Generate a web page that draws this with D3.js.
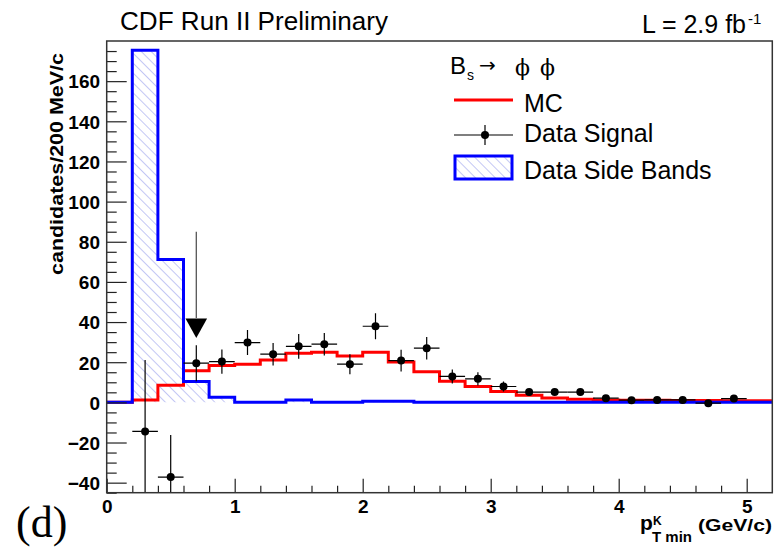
<!DOCTYPE html>
<html>
<head>
<meta charset="utf-8">
<script src="https://cdn.jsdelivr.net/npm/d3@7"></script>
<style>
  html, body { margin: 0; padding: 0; background: #fff; }
  svg { display: block; }
</style>
</head>
<body>
<svg id="chart" width="776" height="547"></svg>
<script>
// ---- data (bin width 0.2 GeV/c, bins from 0 to 5.2) ----
const binEdges = d3.range(0, 27).map(i => +(i * 0.2).toFixed(1));
const mcValues = [0, 1.2, 8.5, 15.7, 18.3, 19.0, 21.1, 24.5, 25.0, 23.1, 25.0, 20.1, 15.2, 10.5, 7.9, 5.4, 3.6, 2.2, 1.6, 1.2, 1.0, 1.0, 0.9, 0.9, 0.8, 0.8];
const sideBandValues = [0, 175.4, 71.2, 10.4, 2.6, 0, 0, 1.2, 0, 0, 0.5, 0.5, 0, 0, 0, 0, 0, 0, 0, 0, 0, 0, 0, 0, 0, 0];
const dataX = [0.3, 0.5, 0.7, 0.9, 1.1, 1.3, 1.5, 1.7, 1.9, 2.1, 2.3, 2.5, 2.7, 2.9, 3.1, 3.3, 3.5, 3.7, 3.9, 4.1, 4.3, 4.5, 4.7, 4.9];
const dataY = [-14.5, -37.2, 19.5, 20.3, 29.8, 24.0, 27.9, 29.0, 19.0, 37.9, 20.8, 27.0, 12.9, 11.7, 7.9, 5.1, 5.1, 5.1, 2.1, 1.1, 1.2, 1.2, -0.4, 1.9];
const dataErr = [35.6, 21.0, 9.0, 6.0, 6.2, 5.6, 6.2, 5.6, 5.0, 6.5, 5.4, 5.6, 3.5, 3.3, 2.5, 1.5, 1.5, 1.5, 1.0, 1.0, 1.0, 1.0, 1.0, 1.0];
const cutArrow = { x: 0.7, from: 85, to: 32 };
const xTicks = [0, 1, 2, 3, 4, 5];
const yTicks = [-40, -20, 0, 20, 40, 60, 80, 100, 120, 140, 160];

// ---- layout ----
const L = 106.7, R = 772.3, T = 41, B = 492.7;
const svg = d3.select("#chart");
const x = d3.scaleLinear().domain([0, 5.2]).range([L, R]);
const y = d3.scaleLinear().domain([-45, 180]).range([B, T]);
const bw = 0.2;

// hatch pattern
const defs = svg.append("defs");
const pat = defs.append("pattern")
  .attr("id", "hatch").attr("patternUnits", "userSpaceOnUse")
  .attr("width", 7).attr("height", 7)
  .attr("patternTransform", "rotate(-45)");
pat.append("line").attr("x1", 0).attr("y1", 0).attr("x2", 0).attr("y2", 7)
  .attr("stroke", "#a9aff0").attr("stroke-width", 1.4);

const clip = defs.append("clipPath").attr("id", "plotclip");
clip.append("rect").attr("x", L).attr("y", T).attr("width", R - L).attr("height", B - T);

// step paths
function stepPoints(vals) {
  const pts = [];
  vals.forEach((v, i) => {
    pts.push([binEdges[i], v]);
    pts.push([binEdges[i + 1], v]);
  });
  return pts;
}
const line = d3.line().x(d => x(d[0])).y(d => y(d[1]));
const area = d3.area().x(d => x(d[0])).y0(y(0)).y1(d => y(d[1]));

const plot = svg.append("g").attr("clip-path", "url(#plotclip)");

// side bands hatch fill
plot.append("path").datum(stepPoints(sideBandValues))
  .attr("d", area).attr("fill", "url(#hatch)").attr("stroke", "none");

// MC (red)
plot.append("path").datum(stepPoints(mcValues))
  .attr("d", line).attr("fill", "none").attr("stroke", "#ff0000").attr("stroke-width", 3);

// side bands outline (blue)
plot.append("path").datum(stepPoints(sideBandValues))
  .attr("d", line).attr("fill", "none").attr("stroke", "#0000ff").attr("stroke-width", 3);

// data points with errors
const pts = plot.append("g");
dataX.forEach((dx, i) => {
  const g = pts.append("g");
  g.append("line").attr("x1", x(dx - bw / 2)).attr("x2", x(dx + bw / 2))
    .attr("y1", y(dataY[i])).attr("y2", y(dataY[i])).attr("stroke", "#000").attr("stroke-width", 1.2);
  g.append("line").attr("x1", x(dx)).attr("x2", x(dx))
    .attr("y1", y(dataY[i] - dataErr[i])).attr("y2", y(dataY[i] + dataErr[i]))
    .attr("stroke", "#000").attr("stroke-width", 1.2);
  g.append("circle").attr("cx", x(dx)).attr("cy", y(dataY[i])).attr("r", 4).attr("fill", "#000");
});

// cut arrow
plot.append("line").attr("x1", x(cutArrow.x)).attr("x2", x(cutArrow.x))
  .attr("y1", y(cutArrow.from)).attr("y2", y(42)).attr("stroke", "#555").attr("stroke-width", 1.3);
{
  const ax = x(cutArrow.x), tip = y(cutArrow.to), top = y(41.8);
  plot.append("path").attr("d", `M${ax - 10.8},${top} L${ax + 10.8},${top} L${ax},${tip} Z`).attr("fill", "#000");
}

// ---- axes ----
const yMinor = d3.range(-45, 181, 5).filter(v => v % 20 !== 0);
const xMinor = d3.range(0, 26).map(i => +(i * 0.2).toFixed(1)).filter(v => Math.abs(v - Math.round(v)) > 1e-6);

const yAxisG = svg.append("g").attr("transform", `translate(${L},0)`)
  .call(d3.axisLeft(y).tickValues(yTicks).tickSize(-20).tickSizeOuter(0).tickPadding(6.7));
const yMinorG = svg.append("g").attr("transform", `translate(${L},0)`)
  .call(d3.axisLeft(y).tickValues(yMinor).tickSize(-10).tickSizeOuter(0).tickFormat(""));
const xAxisG = svg.append("g").attr("transform", `translate(0,${B})`)
  .call(d3.axisBottom(x).tickValues(xTicks).tickSize(-14).tickSizeOuter(0).tickPadding(7).tickFormat(d3.format("d")));
const xMinorG = svg.append("g").attr("transform", `translate(0,${B})`)
  .call(d3.axisBottom(x).tickValues(xMinor).tickSize(-7).tickSizeOuter(0).tickFormat(""));

[yAxisG, yMinorG, xAxisG, xMinorG].forEach(g => {
  g.select(".domain").remove();
  g.selectAll("line").attr("stroke", "#222").attr("stroke-width", 1.2);
  g.selectAll("text").attr("font-family", "'Liberation Sans', Arial, sans-serif")
    .attr("font-weight", "bold").attr("font-size", 19).attr("fill", "#000");
});
yAxisG.selectAll("text").attr("dy", "0.36em");

// frame
svg.append("rect").attr("x", L).attr("y", T).attr("width", R - L).attr("height", B - T)
  .attr("fill", "none").attr("stroke", "#333").attr("stroke-width", 1.5);

// ---- texts ----
const sans = "'Liberation Sans', Arial, sans-serif";
svg.append("text").attr("x", 120).attr("y", 30).attr("font-family", sans).attr("font-size", 25)
  .attr("textLength", 268).attr("lengthAdjust", "spacingAndGlyphs").text("CDF Run II Preliminary");
svg.append("text").attr("x", 642).attr("y", 33).attr("font-family", sans).attr("font-size", 25).text("L = 2.9 fb");
svg.append("text").attr("x", 748).attr("y", 24).attr("font-family", sans).attr("font-size", 15).text("-1");

// y title
svg.append("text").attr("transform", "translate(63,164) rotate(-90)").attr("text-anchor", "middle")
  .attr("font-family", sans).attr("font-weight", "bold").attr("font-size", 19)
  .attr("textLength", 222).attr("lengthAdjust", "spacingAndGlyphs").text("candidates/200 MeV/c");

// x title
const xt = svg.append("g").attr("font-family", sans).attr("font-weight", "bold");
xt.append("text").attr("x", 640).attr("y", 530).attr("font-size", 21).text("p");
xt.append("text").attr("x", 653).attr("y", 525).attr("font-size", 12).text("K");
xt.append("text").attr("x", 652).attr("y", 542).attr("font-size", 15).text("T min");
xt.append("text").attr("x", 698).attr("y", 531).attr("font-size", 17)
  .attr("textLength", 74).attr("lengthAdjust", "spacingAndGlyphs").text("(GeV/c)");

// (d)
svg.append("text").attr("x", 16).attr("y", 537).attr("font-family", "'Liberation Serif', 'Times New Roman', serif")
  .attr("font-size", 44).text("(d)");

// ---- legend ----
const lg = svg.append("g").attr("font-family", sans);
lg.append("text").attr("x", 450).attr("y", 74).attr("font-size", 24).text("B");
lg.append("text").attr("x", 467).attr("y", 80).attr("font-size", 14).text("s");
lg.append("text").attr("x", 479).attr("y", 72).attr("font-family", "'DejaVu Sans', sans-serif").attr("font-size", 20).text("→");
lg.append("text").attr("x", 515).attr("y", 75).attr("font-family", "'DejaVu Serif', serif").attr("font-size", 22).text("ϕ");
lg.append("text").attr("x", 540).attr("y", 75).attr("font-family", "'DejaVu Serif', serif").attr("font-size", 22).text("ϕ");

lg.append("line").attr("x1", 454).attr("x2", 513).attr("y1", 100).attr("y2", 100).attr("stroke", "#ff0000").attr("stroke-width", 3);
lg.append("text").attr("x", 524).attr("y", 112).attr("font-size", 25).text("MC");

lg.append("line").attr("x1", 454).attr("x2", 513).attr("y1", 135).attr("y2", 135).attr("stroke", "#000").attr("stroke-width", 1.2);
lg.append("line").attr("x1", 485).attr("x2", 485).attr("y1", 125).attr("y2", 145).attr("stroke", "#000").attr("stroke-width", 1.2);
lg.append("circle").attr("cx", 485).attr("cy", 135).attr("r", 4).attr("fill", "#000");
lg.append("text").attr("x", 524).attr("y", 142).attr("font-size", 25).text("Data Signal");

lg.append("rect").attr("x", 455).attr("y", 156).attr("width", 57).attr("height", 23)
  .attr("fill", "url(#hatch)").attr("stroke", "#0000ff").attr("stroke-width", 3);
lg.append("text").attr("x", 524).attr("y", 179).attr("font-size", 25).text("Data Side Bands");
</script>
</body>
</html>
